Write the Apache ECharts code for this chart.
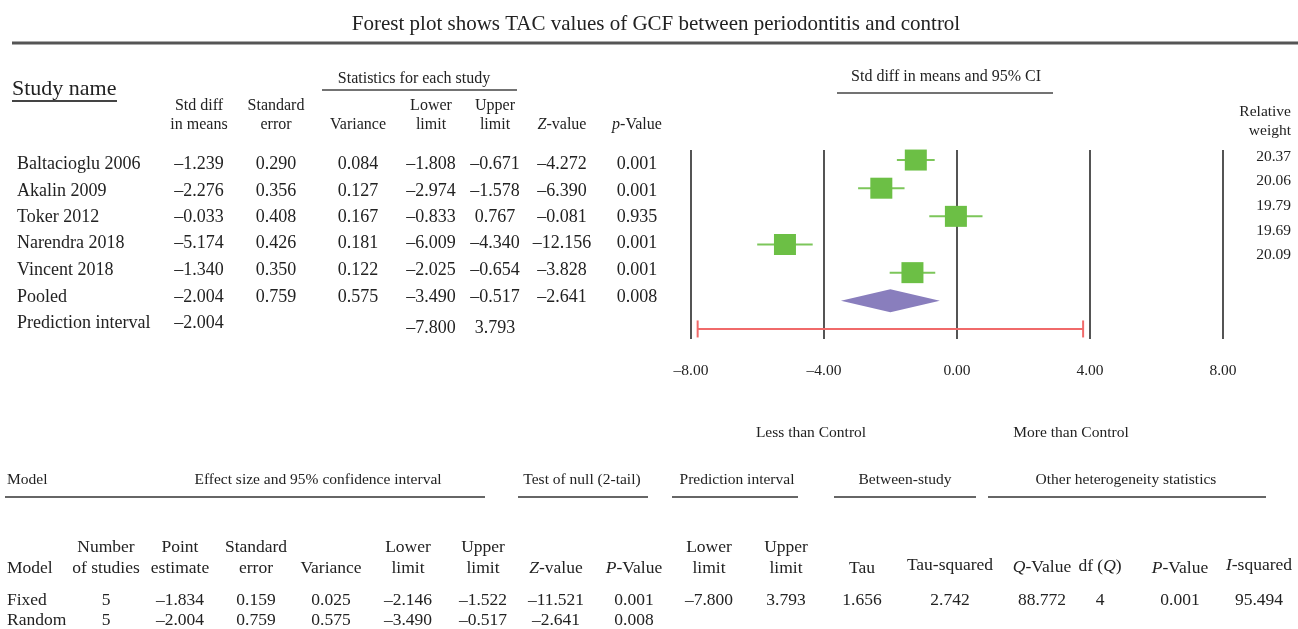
<!DOCTYPE html>
<html>
<head>
<meta charset="utf-8">
<script src="https://cdn.jsdelivr.net/npm/echarts@6/dist/echarts.min.js"></script>
<style>
  html, body { margin: 0; padding: 0; background: #fff; }
  #chart { width: 1298px; height: 629px; }
</style>
</head>
<body>
<div id="chart"></div>
<script>
// ---- Study-level data ----
const studies = ['Baltacioglu 2006', 'Akalin 2009', 'Toker 2012', 'Narendra 2018', 'Vincent 2018'];
const stdDiff = [-1.239, -2.276, -0.033, -5.174, -1.340];
const stdErr = [0.290, 0.356, 0.408, 0.426, 0.350];
const variance = [0.084, 0.127, 0.167, 0.181, 0.122];
const lowerLimit = [-1.808, -2.974, -0.833, -6.009, -2.025];
const upperLimit = [-0.671, -1.578, 0.767, -4.340, -0.654];
const zValue = [-4.272, -6.390, -0.081, -12.156, -3.828];
const pValue = [0.001, 0.001, 0.935, 0.001, 0.001];
const relWeight = [20.37, 20.06, 19.79, 19.69, 20.09];

// ---- Pooled estimate and prediction interval ----
const pooled = [-2.004, 0.759, 0.575, -3.490, -0.517, -2.641, 0.008]; // smd, se, var, lower, upper, z, p
const predInterval = [-2.004, -7.800, 3.793]; // point, lower, upper

// ---- Axis ticks ----
const axisTicks = [-8, -4, 0, 4, 8];

// ---- Model summary table ----
const models = ['Fixed', 'Random'];
const nStudies = [5, 5];
const pointEst = [-1.834, -2.004];
const modelSE = [0.159, 0.759];
const modelVar = [0.025, 0.575];
const modelLower = [-2.146, -3.490];
const modelUpper = [-1.522, -0.517];
const modelZ = [-11.521, -2.641];
const modelP = [0.001, 0.008];
const heterogeneity = [-7.800, 3.793, 1.656, 2.742, 88.772, 4, 0.001, 95.494]; // PI lower, PI upper, tau, tau², Q, df, p, I²

const FONT = '"Liberation Serif", "DejaVu Serif", serif';
const INK = '#222';

function fmt(v, d) {
  const s = Math.abs(v).toFixed(d);
  return v < 0 ? '\u2013' + s : s;
}

const g = [];
function txt(x, y, text, align, size, extra) {
  g.push({
    type: 'text', x: x, y: y, silent: true,
    style: Object.assign({
      text: text, fill: INK, font: size + 'px ' + FONT,
      textAlign: align || 'center', textVerticalAlign: 'middle',
      rich: { i: { fontStyle: 'italic', fontSize: size, fontFamily: FONT, fill: INK } }
    }, extra || {})
  });
}
function rule(x1, x2, y, w, color) {
  g.push({ type: 'line', silent: true, shape: { x1: x1, y1: y, x2: x2, y2: y },
    style: { stroke: color || '#333', lineWidth: w || 1.5 } });
}

// Title
txt(656, 24, 'Forest plot shows TAC values of GCF between periodontitis and control', 'center', 21);
rule(12, 1298, 43, 3, '#555');

// Study table headers
const HS = 16;
txt(12, 89, 'Study name', 'left', 22);
rule(12, 117, 101, 2, '#444');
txt(414, 79, 'Statistics for each study', 'center', HS);
rule(322, 517, 90, 1.5, '#444');
const colX = [199, 276, 358, 431, 495, 562, 637];
const H1 = 106, H2 = 125;
txt(colX[0], H1, 'Std diff', 'center', HS); txt(colX[0], H2, 'in means', 'center', HS);
txt(colX[1], H1, 'Standard', 'center', HS); txt(colX[1], H2, 'error', 'center', HS);
txt(colX[2], H2, 'Variance', 'center', HS);
txt(colX[3], H1, 'Lower', 'center', HS); txt(colX[3], H2, 'limit', 'center', HS);
txt(colX[4], H1, 'Upper', 'center', HS); txt(colX[4], H2, 'limit', 'center', HS);
txt(colX[5], H2, '{i|Z}-value', 'center', HS);
txt(colX[6], H2, '{i|p}-Value', 'center', HS);

// Study rows
const rowY = [164, 191, 217, 243, 270, 297, 323];
const RS = 18;
studies.forEach(function (name, i) {
  const y = rowY[i];
  txt(17, y, name, 'left', RS);
  txt(colX[0], y, fmt(stdDiff[i], 3), 'center', RS);
  txt(colX[1], y, fmt(stdErr[i], 3), 'center', RS);
  txt(colX[2], y, fmt(variance[i], 3), 'center', RS);
  txt(colX[3], y, fmt(lowerLimit[i], 3), 'center', RS);
  txt(colX[4], y, fmt(upperLimit[i], 3), 'center', RS);
  txt(colX[5], y, fmt(zValue[i], 3), 'center', RS);
  txt(colX[6], y, fmt(pValue[i], 3), 'center', RS);
});
txt(17, rowY[5], 'Pooled', 'left', RS);
pooled.forEach(function (v, k) { txt(colX[k], rowY[5], fmt(v, 3), 'center', RS); });
txt(17, rowY[6], 'Prediction interval', 'left', RS);
txt(colX[0], rowY[6], fmt(predInterval[0], 3), 'center', RS);
txt(colX[3], 328, fmt(predInterval[1], 3), 'center', RS);
txt(colX[4], 328, fmt(predInterval[2], 3), 'center', RS);

// Forest plot header and weights
const SS = 15.5;
txt(946, 77, 'Std diff in means and 95% CI', 'center', HS);
rule(837, 1053, 93, 1.5, '#444');
txt(1291, 112, 'Relative', 'right', SS);
txt(1291, 131, 'weight', 'right', SS);
const weightY = [157, 181, 206, 231, 255];
relWeight.forEach(function (w, i) { txt(1291, weightY[i], w.toFixed(2), 'right', SS); });

// Direction labels
txt(811, 433, 'Less than Control', 'center', SS);
txt(1071, 433, 'More than Control', 'center', SS);

// Model summary: group headers
const GY = 480;
txt(7, GY, 'Model', 'left', SS);
txt(318, GY, 'Effect size and 95% confidence interval', 'center', SS);
rule(5, 485, 497, 1.5, '#333');
txt(582, GY, 'Test of null (2-tail)', 'center', SS);
rule(518, 648, 497, 1.5, '#333');
txt(737, GY, 'Prediction interval', 'center', SS);
rule(672, 798, 497, 1.5, '#333');
txt(905, GY, 'Between-study', 'center', SS);
rule(834, 976, 497, 1.5, '#333');
txt(1126, GY, 'Other heterogeneity statistics', 'center', SS);
rule(988, 1266, 497, 1.5, '#333');

// Model summary: column headers
const mX = [106, 180, 256, 331, 408, 483, 556, 634, 709, 786, 862, 950, 1042, 1100, 1180, 1259];
const B1 = 547, B2 = 568, BS = 17.5;
txt(7, B2, 'Model', 'left', BS);
txt(mX[0], B1, 'Number', 'center', BS); txt(mX[0], B2, 'of studies', 'center', BS);
txt(mX[1], B1, 'Point', 'center', BS); txt(mX[1], B2, 'estimate', 'center', BS);
txt(mX[2], B1, 'Standard', 'center', BS); txt(mX[2], B2, 'error', 'center', BS);
txt(mX[3], B2, 'Variance', 'center', BS);
txt(mX[4], B1, 'Lower', 'center', BS); txt(mX[4], B2, 'limit', 'center', BS);
txt(mX[5], B1, 'Upper', 'center', BS); txt(mX[5], B2, 'limit', 'center', BS);
txt(mX[6], B2, '{i|Z}-value', 'center', BS);
txt(mX[7], B2, '{i|P}-Value', 'center', BS);
txt(mX[8], B1, 'Lower', 'center', BS); txt(mX[8], B2, 'limit', 'center', BS);
txt(mX[9], B1, 'Upper', 'center', BS); txt(mX[9], B2, 'limit', 'center', BS);
txt(mX[10], B2, 'Tau', 'center', BS);
txt(mX[11], 565, 'Tau-squared', 'center', BS);
txt(mX[12], 567, '{i|Q}-Value', 'center', BS);
txt(mX[13], 566, 'df ({i|Q})', 'center', BS);
txt(mX[14], 568, '{i|P}-Value', 'center', BS);
txt(mX[15], 565, '{i|I}-squared', 'center', BS);

// Model summary: rows
const MY = [600, 620];
models.forEach(function (m, i) {
  const y = MY[i];
  txt(7, y, m, 'left', BS);
  txt(mX[0], y, String(nStudies[i]), 'center', BS);
  txt(mX[1], y, fmt(pointEst[i], 3), 'center', BS);
  txt(mX[2], y, fmt(modelSE[i], 3), 'center', BS);
  txt(mX[3], y, fmt(modelVar[i], 3), 'center', BS);
  txt(mX[4], y, fmt(modelLower[i], 3), 'center', BS);
  txt(mX[5], y, fmt(modelUpper[i], 3), 'center', BS);
  txt(mX[6], y, fmt(modelZ[i], 3), 'center', BS);
  txt(mX[7], y, fmt(modelP[i], 3), 'center', BS);
});
heterogeneity.forEach(function (v, k) {
  const s = (k === 5) ? String(v) : fmt(v, 3);
  txt(mX[8 + k], MY[0], s, 'center', BS);
});

// ---- Forest plot marks ----
const studyData = stdDiff.map(function (v, i) { return [v, i, lowerLimit[i], upperLimit[i]]; });
const pooledData = [[pooled[0], 5, pooled[3], pooled[4]]];
const piData = [[predInterval[0], 6, predInterval[1], predInterval[2]]];

const chart = echarts.init(document.getElementById('chart'), null, { renderer: 'canvas' });
chart.setOption({
  animation: false,
  backgroundColor: '#fff',
  grid: { left: 691, right: 75, top: 150, bottom: 290, containLabel: false },
  xAxis: {
    type: 'value', min: axisTicks[0], max: axisTicks[axisTicks.length - 1], interval: 4,
    axisLine: { show: false }, axisTick: { show: false },
    splitLine: { show: true, lineStyle: { color: '#2a2a2a', width: 1.6 } },
    axisLabel: {
      margin: 24, color: INK, fontSize: SS, fontFamily: FONT,
      formatter: function (v) { return fmt(v, 2); }
    }
  },
  yAxis: {
    type: 'value', inverse: true, min: -0.357, max: 6.357, show: false,
    splitLine: { show: false }
  },
  series: [
    {
      type: 'custom', name: 'Studies', data: studyData, encode: { x: 0, y: 1 },
      renderItem: function (params, api) {
        const c = api.coord([api.value(0), api.value(1)]);
        const lo = api.coord([api.value(2), api.value(1)]);
        const hi = api.coord([api.value(3), api.value(1)]);
        return {
          type: 'group', children: [
            { type: 'line', shape: { x1: lo[0], y1: c[1], x2: hi[0], y2: c[1] },
              style: { stroke: '#7cc65a', lineWidth: 2 } },
            { type: 'rect', shape: { x: c[0] - 11, y: c[1] - 10.5, width: 22, height: 21 },
              style: { fill: '#6cbf45' } }
          ]
        };
      }
    },
    {
      type: 'custom', name: 'Pooled', data: pooledData, encode: { x: 0, y: 1 },
      renderItem: function (params, api) {
        const c = api.coord([api.value(0), api.value(1)]);
        const lo = api.coord([api.value(2), api.value(1)]);
        const hi = api.coord([api.value(3), api.value(1)]);
        return {
          type: 'polygon',
          shape: { points: [[lo[0], c[1]], [c[0], c[1] - 11.5], [hi[0], c[1]], [c[0], c[1] + 11.5]] },
          style: { fill: '#897ebd' }
        };
      }
    },
    {
      type: 'custom', name: 'Prediction interval', data: piData, encode: { x: 0, y: 1 },
      renderItem: function (params, api) {
        const c = api.coord([api.value(0), api.value(1)]);
        const lo = api.coord([api.value(2), api.value(1)]);
        const hi = api.coord([api.value(3), api.value(1)]);
        const st = { stroke: '#f06a6a', lineWidth: 2 };
        return {
          type: 'group', children: [
            { type: 'line', shape: { x1: lo[0], y1: c[1], x2: hi[0], y2: c[1] }, style: st },
            { type: 'line', shape: { x1: lo[0], y1: c[1] - 8.5, x2: lo[0], y2: c[1] + 8.5 }, style: st },
            { type: 'line', shape: { x1: hi[0], y1: c[1] - 8.5, x2: hi[0], y2: c[1] + 8.5 }, style: st }
          ]
        };
      }
    }
  ],
  graphic: g
});
</script>
</body>
</html>
